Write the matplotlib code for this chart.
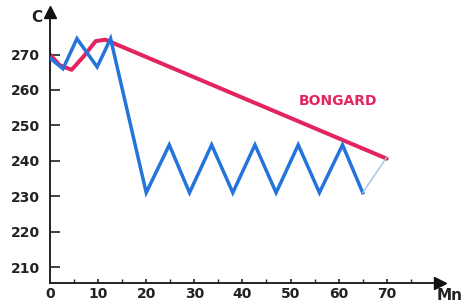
import matplotlib
matplotlib.use("Agg")
import matplotlib.pyplot as plt

# Blue zigzag series (Mn, C)
blue_x = [0, 2.7, 5.6, 9.8, 12.6, 20, 24.8, 29, 33.6, 38, 42.6, 47, 51.6, 56, 60.8, 65]
blue_y = [269, 266, 274.5, 266.5, 274.5, 231, 244.5, 231, 244.5, 231, 244.5, 231, 244.5, 231, 244.5, 231]
# thin continuation
blue_tail_x = [65, 70]
blue_tail_y = [231, 241]
# Red (BONGARD) series
red_x = [0, 2, 4.5, 7, 9.5, 11.5, 70]
red_y = [270, 267, 265.7, 269.5, 273.8, 274.2, 240.6]

xticks = [0, 10, 20, 30, 40, 50, 60, 70]
yticks = [210, 220, 230, 240, 250, 260, 270]

fig = plt.figure(figsize=(4.77, 3.02), dpi=100)
ax = fig.add_axes([0.1048, 0.063, 0.817, 0.897])
ax.set_xlim(0, 81)
ax.set_ylim(205.5, 282)

ax.plot(red_x, red_y, color="#e3245f", lw=2.9, solid_capstyle="round", zorder=2)
ax.plot(blue_x, blue_y, color="#2474dc", lw=2.5, solid_joinstyle="miter", zorder=3)
ax.plot(blue_tail_x, blue_tail_y, color="#9fc3e8", lw=1.0, zorder=3)

for s in ["top", "right"]:
    ax.spines[s].set_visible(False)
for s in ["left", "bottom"]:
    ax.spines[s].set_color("#222222")
    ax.spines[s].set_linewidth(1.4)

ax.set_xticks(xticks)
ax.set_xticks(list(range(0, 81, 5)), minor=True)
ax.set_yticks(yticks)
ax.tick_params(axis="both", direction="in", colors="#222222", labelsize=10, width=1.2)
ax.tick_params(axis="y", length=7, pad=7)
ax.tick_params(axis="x", length=3, pad=3)
ax.tick_params(axis="x", which="minor", direction="in", length=3, width=1.0, color="#222222")
for lab in ax.get_xticklabels() + ax.get_yticklabels():
    lab.set_fontweight("bold")

# arrows
ax.plot([81], [205.5], marker=">", markersize=9, color="#111111", clip_on=False, zorder=5)
ax.plot([0], [282], marker="^", markersize=9, color="#111111", clip_on=False, zorder=5)

fig.text(37 / 477, 1 - 18 / 302, "C", fontsize=11, fontweight="bold", color="#222222",
         ha="center", va="center")
fig.text(450 / 477, 1 - 295 / 302, "Mn", fontsize=11, fontweight="bold", color="#222222",
         ha="center", va="center")
ax.text(59.8, 257, "BONGARD", fontsize=10, fontweight="bold", color="#e3245f",
        ha="center", va="center")

fig.savefig("out.png", dpi=100)
